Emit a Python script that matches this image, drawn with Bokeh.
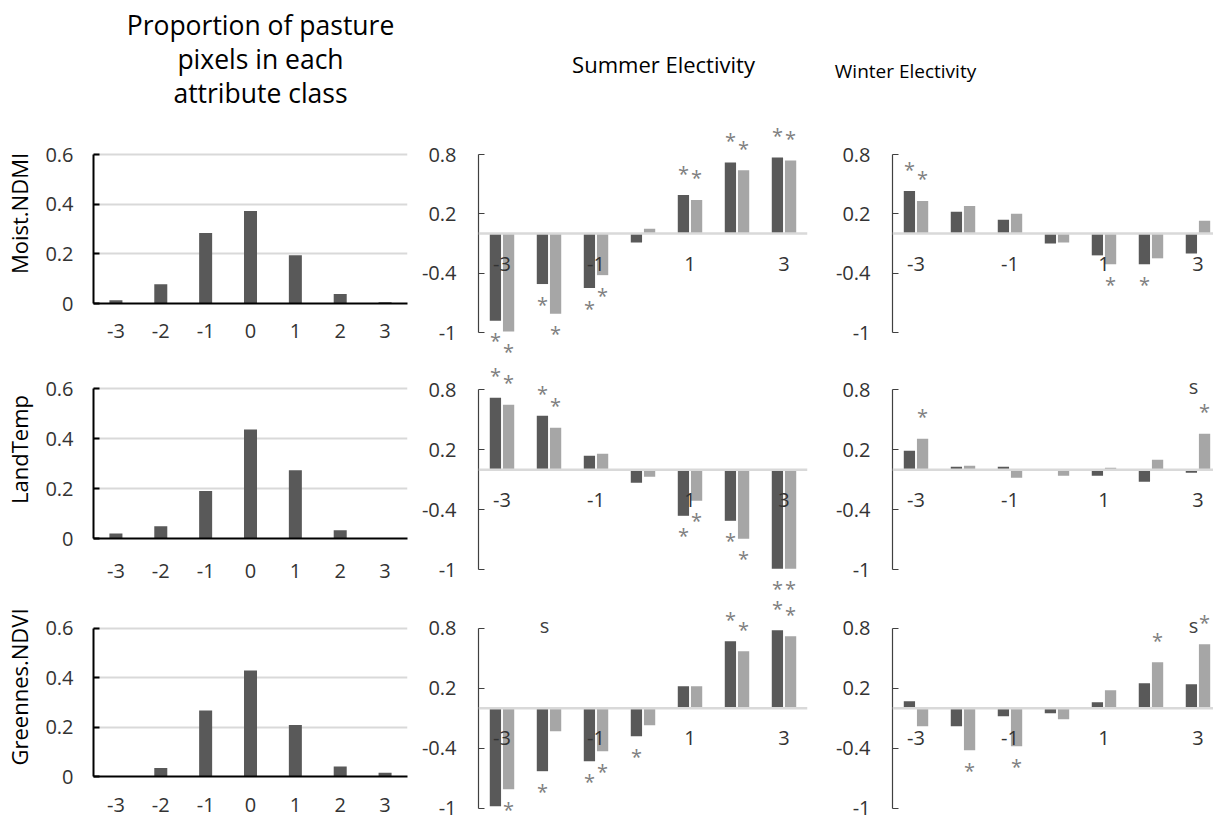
from bokeh.plotting import figure
from bokeh.layouts import column, row
from bokeh.models import Range1d, FixedTicker, Span, ColumnDataSource
from bokeh.transform import dodge
from bokeh.core.properties import value
from bokeh.embed import file_html
from bokeh.resources import INLINE

# ---------------- data ----------------
classes = [-3, -2, -1, 0, 1, 2, 3]
class_labels = ["-3", "-2", "-1", "0", "1", "2", "3"]
elect_class_labels = ["-3", "-1", "1", "3"]          # labels shown on electivity panels

attributes = ["Moist.NDMI", "LandTemp", "Greennes.NDVI"]
column_titles = ["Proportion of pasture", "pixels in each", "attribute class"]
summer_title = "Summer Electivity"
winter_title = "Winter Electivity"

prop_ticks = [0, 0.2, 0.4, 0.6]
prop_tick_labels = ["0", "0.2", "0.4", "0.6"]
elect_ticks = [-1, -0.4, 0.2, 0.8]
elect_tick_labels = ["-1", "-0.4", "0.2", "0.8"]

prop_moist = [0.013, 0.078, 0.284, 0.373, 0.195, 0.038, 0.005]
prop_land = [0.020, 0.049, 0.190, 0.436, 0.273, 0.033, 0.0]
prop_green = [0.0, 0.034, 0.267, 0.429, 0.208, 0.040, 0.015]

summer_moist_a = [-0.88, -0.51, -0.55, -0.09, 0.39, 0.72, 0.77]
summer_moist_b = [-0.99, -0.81, -0.42, 0.05, 0.34, 0.64, 0.74]
winter_moist_a = [0.43, 0.22, 0.14, -0.10, -0.22, -0.31, -0.20]
winter_moist_b = [0.33, 0.28, 0.20, -0.09, -0.31, -0.25, 0.13]

summer_land_a = [0.72, 0.54, 0.14, -0.13, -0.46, -0.51, -0.99]
summer_land_b = [0.65, 0.42, 0.16, -0.07, -0.31, -0.69, -0.99]
winter_land_a = [0.19, 0.03, 0.03, 0.0, -0.06, -0.12, -0.03]
winter_land_b = [0.31, 0.04, -0.08, -0.06, 0.02, 0.10, 0.36]

summer_green_a = [-0.98, -0.63, -0.53, -0.28, 0.22, 0.67, 0.78]
summer_green_b = [-0.81, -0.23, -0.43, -0.17, 0.22, 0.57, 0.72]
winter_green_a = [0.07, -0.18, -0.08, -0.05, 0.06, 0.25, 0.24]
winter_green_b = [-0.18, -0.42, -0.38, -0.11, 0.18, 0.46, 0.64]

# significance markers (1 = "*")
sig_summer_moist_a = [1, 1, 1, 0, 1, 1, 1]
sig_summer_moist_b = [1, 1, 1, 0, 1, 1, 1]
sig_winter_moist_a = [1, 0, 0, 0, 0, 1, 0]
sig_winter_moist_b = [1, 0, 0, 0, 1, 0, 0]
sig_summer_land_a = [1, 1, 0, 0, 1, 1, 1]
sig_summer_land_b = [1, 1, 0, 0, 1, 1, 1]
sig_winter_land_a = [0, 0, 0, 0, 0, 0, 0]
sig_winter_land_b = [1, 0, 0, 0, 0, 0, 1]
sig_summer_green_a = [1, 1, 1, 1, 0, 1, 1]
sig_summer_green_b = [1, 0, 1, 0, 0, 1, 1]
sig_winter_green_a = [0, 0, 0, 0, 0, 0, 0]
sig_winter_green_b = [0, 1, 1, 0, 0, 1, 1]

# "s" markers: class where an "s" is written
s_summer_moist, s_winter_moist = [], []
s_summer_land, s_winter_land = [], [3]
s_summer_green, s_winter_green = [-2], [3]

# ---------------- styling ----------------
FONT_NAME = "Open Sans"
FONT = value(FONT_NAME)
DARK = "#595959"
LIGHT = "#a6a6a6"
STAR = "#7f7f7f"
TXT = "#333333"
OFF = 0.14
BW = 0.24
STAR_UP = -22
STAR_DOWN = 20

# layout (page pixel positions; the page has no margin)
rows_spec = [
    dict(top=123, bottom=360, p06=154.0, p0=302.7, e08=154.0, em1=332.0, xs=14),
    dict(top=360, bottom=597, p06=388.3, p0=538.3, e08=389.3, em1=569.3, xs=19),
    dict(top=597, bottom=818, p06=627.7, p0=776.0, e08=627.7, em1=807.7, xs=15),
]
cols_spec = [
    dict(left=0, width=418, fl=93, fr=407),
    dict(left=418, width=414, fl=477, fr=807),
    dict(left=832, width=381, fl=891, fr=1213),
]
pitch = (cols_spec[1]["fr"] - cols_spec[1]["fl"]) / 7.0


def base_fig(w, h, xr, yr, bl, br, bb, xaxis=True):
    p = figure(width=w, height=h, x_range=xr, y_range=yr,
               toolbar_location=None, output_backend="svg",
               x_axis_location="below" if xaxis else None,
               min_border_left=bl, min_border_right=br,
               min_border_top=0, min_border_bottom=bb)
    p.outline_line_color = None
    p.xgrid.visible = False
    p.background_fill_color = "white"
    p.border_fill_color = "white"
    return p


def prop_fig(ri, vals, label):
    rs, cs = rows_spec[ri], cols_spec[0]
    h = rs["bottom"] - rs["top"]
    bb = int(round(rs["bottom"] - rs["p0"]))
    fh = h - bb
    yend = 0.6 * fh / (rs["p0"] - rs["p06"])
    p = base_fig(cs["width"], h, Range1d(-3.5, 3.5), Range1d(0, yend),
                 cs["fl"] - cs["left"], cs["left"] + cs["width"] - cs["fr"], bb)
    p.ygrid.ticker = FixedTicker(ticks=prop_ticks[1:])
    p.ygrid.grid_line_color = "#d9d9d9"
    p.ygrid.grid_line_width = 2
    src = ColumnDataSource(dict(cls=classes, v=vals))
    p.vbar(x="cls", top="v", width=0.29, source=src, fill_color=DARK, line_color=None)
    xa = p.xaxis[0]
    xa.ticker = FixedTicker(ticks=classes)
    xa.major_label_overrides = {c: l for c, l in zip(classes, class_labels)}
    xa.axis_line_color = "black"
    xa.axis_line_width = 2
    xa.major_tick_line_color = None
    xa.minor_tick_line_color = None
    xa.major_label_standoff = rs["xs"]
    xa.major_label_text_font = FONT_NAME
    xa.major_label_text_font_size = "20px"
    xa.major_label_text_color = TXT
    ya = p.yaxis[0]
    ya.ticker = FixedTicker(ticks=prop_ticks)
    ya.major_label_overrides = {t: l for t, l in zip(prop_ticks, prop_tick_labels)}
    ya.bounds = (0, 0.6)
    ya.axis_line_color = "black"
    ya.axis_line_width = 2
    ya.major_tick_line_color = "black"
    ya.major_tick_line_width = 2
    ya.major_tick_in = 6
    ya.major_tick_out = 0
    ya.minor_tick_line_color = None
    ya.major_label_standoff = 20
    ya.major_label_text_font = FONT_NAME
    ya.major_label_text_font_size = "20px"
    ya.major_label_text_color = TXT
    ya.axis_label = label
    ya.axis_label_text_font = FONT_NAME
    ya.axis_label_text_font_size = "22px"
    ya.axis_label_text_font_style = "normal"
    ya.axis_label_text_color = "black"
    ya.axis_label_standoff = 8
    return p


def elect_fig(ri, ci, a, b, sa, sb, s_cls):
    rs, cs = rows_spec[ri], cols_spec[ci]
    h = rs["bottom"] - rs["top"]
    scale = (rs["em1"] - rs["e08"]) / 1.8
    yr = Range1d(-1 - (rs["bottom"] - rs["em1"]) / scale, 0.8 + (rs["e08"] - rs["top"]) / scale)
    fw = cs["fr"] - cs["fl"]
    xr = Range1d(-3.5, -3.5 + fw / pitch)
    p = base_fig(cs["width"], h, xr, yr, cs["fl"] - cs["left"],
                 cs["left"] + cs["width"] - cs["fr"], 0, xaxis=False)
    p.ygrid.visible = False
    p.add_layout(Span(location=0, dimension="width", line_color="#d9d9d9", line_width=2.5))
    src = ColumnDataSource(dict(cls=classes, a=a, b=b))
    p.vbar(x=dodge("cls", -OFF), top="a", width=BW, source=src, fill_color=DARK, line_color=None)
    p.vbar(x=dodge("cls", OFF), top="b", width=BW, source=src, fill_color=LIGHT, line_color=None)

    # significance stars
    sx, sy, so = [], [], []
    for c, v, s in zip(classes, a, sa):
        if s:
            sx.append(c - OFF); sy.append(v); so.append(STAR_UP if v >= 0 else STAR_DOWN)
    for c, v, s in zip(classes, b, sb):
        if s:
            sx.append(c + OFF); sy.append(v); so.append(STAR_UP if v >= 0 else STAR_DOWN)
    star_src = ColumnDataSource(dict(x=sx, y=sy, yo=so, t=["*"] * len(sx)))
    p.text(x="x", y="y", text="t", y_offset="yo", source=star_src,
           text_font=FONT, text_font_size="20px", text_color=STAR,
           text_align="center", text_baseline="alphabetic")

    # "s" markers
    if s_cls:
        s_src = ColumnDataSource(dict(x=[c - OFF for c in s_cls], y=[0.8] * len(s_cls),
                                      t=["s"] * len(s_cls)))
        p.text(x="x", y="y", text="t", source=s_src, x_offset=2, y_offset=-3,
               text_font=FONT, text_font_size="20px", text_color="#404040",
               text_align="center", text_baseline="alphabetic")

    # class labels next to the zero line
    lab_src = ColumnDataSource(dict(x=[int(l) for l in elect_class_labels],
                                    y=[0] * len(elect_class_labels), t=elect_class_labels))
    p.text(x="x", y="y", text="t", source=lab_src, y_offset=30,
           text_font=FONT, text_font_size="20px", text_color=TXT,
           text_align="center", text_baseline="middle")

    ya = p.yaxis[0]
    ya.ticker = FixedTicker(ticks=elect_ticks)
    ya.major_label_overrides = {t: l for t, l in zip(elect_ticks, elect_tick_labels)}
    ya.bounds = (-1, 0.8)
    ya.axis_line_color = "#404040"
    ya.axis_line_width = 1.2
    ya.major_tick_line_color = "#404040"
    ya.major_tick_line_width = 1.2
    ya.major_tick_in = 6
    ya.major_tick_out = 0
    ya.minor_tick_line_color = None
    ya.major_label_standoff = 22
    ya.major_label_text_font = FONT_NAME
    ya.major_label_text_font_size = "20px"
    ya.major_label_text_color = TXT
    return p


# header with column titles (page coordinates)
header = figure(width=1213, height=rows_spec[0]["top"], x_range=Range1d(0, 1213),
                y_range=Range1d(rows_spec[0]["top"], 0), toolbar_location=None,
                output_backend="svg", x_axis_location=None, y_axis_location=None,
                min_border=0)
header.outline_line_color = None
header.grid.visible = False
header.text(x=[260] * 3, y=[24, 58, 92], text=column_titles, text_font=FONT,
            text_font_size="26.5px", text_color="black", text_align="center",
            text_baseline="middle")
header.text(x=[663], y=[63], text=[summer_title], text_font=FONT, text_font_size="22px",
            text_color="black", text_align="center", text_baseline="middle")
header.text(x=[905], y=[70], text=[winter_title], text_font=FONT, text_font_size="19px",
            text_color="black", text_align="center", text_baseline="middle")

props = [prop_moist, prop_land, prop_green]
summer = [(summer_moist_a, summer_moist_b, sig_summer_moist_a, sig_summer_moist_b, s_summer_moist),
          (summer_land_a, summer_land_b, sig_summer_land_a, sig_summer_land_b, s_summer_land),
          (summer_green_a, summer_green_b, sig_summer_green_a, sig_summer_green_b, s_summer_green)]
winter = [(winter_moist_a, winter_moist_b, sig_winter_moist_a, sig_winter_moist_b, s_winter_moist),
          (winter_land_a, winter_land_b, sig_winter_land_a, sig_winter_land_b, s_winter_land),
          (winter_green_a, winter_green_b, sig_winter_green_a, sig_winter_green_b, s_winter_green)]

col1 = column(*[prop_fig(i, props[i], attributes[i]) for i in range(3)], spacing=0)
col2 = column(*[elect_fig(i, 1, *summer[i]) for i in range(3)], spacing=0)
col3 = column(*[elect_fig(i, 2, *winter[i]) for i in range(3)], spacing=0)

layout = column(header, row(col1, col2, col3, spacing=0), spacing=0)

open("out.html", "w").write(file_html(layout, INLINE))
